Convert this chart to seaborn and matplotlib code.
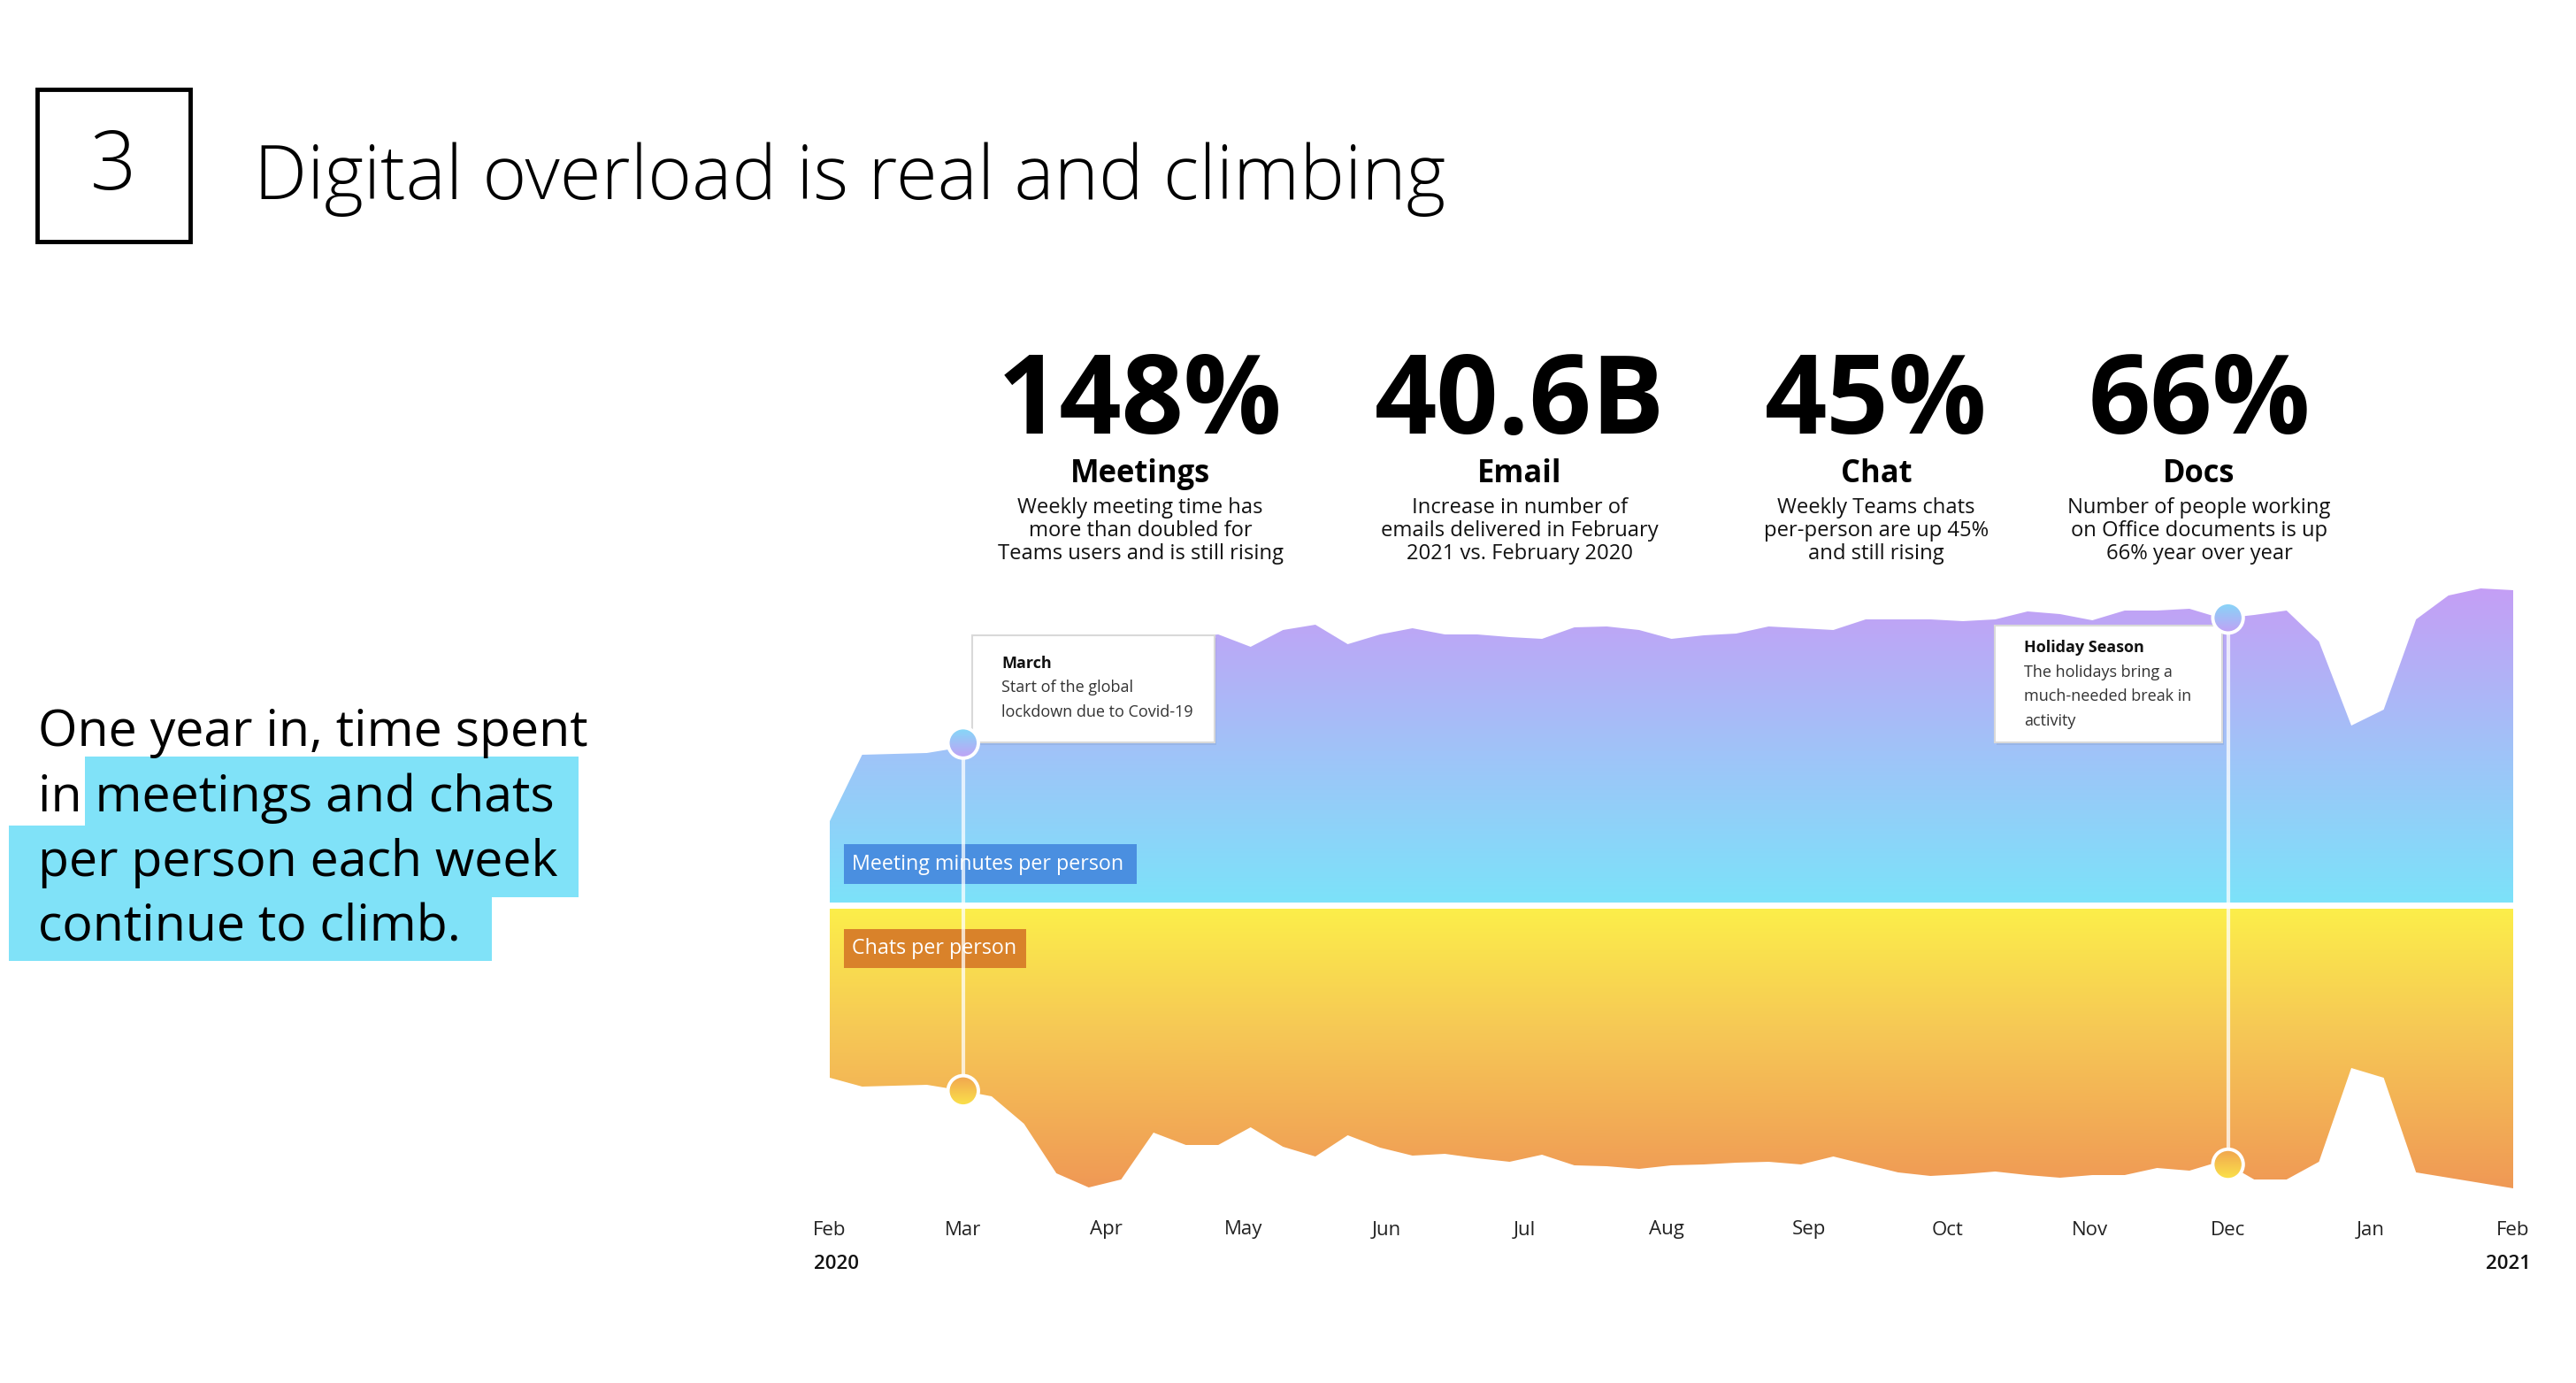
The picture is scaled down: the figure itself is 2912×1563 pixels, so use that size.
import numpy as np
import pandas as pd
import matplotlib
matplotlib.use("Agg")
import matplotlib.pyplot as plt
import matplotlib.dates as mdates
import seaborn as sns
from matplotlib.colors import LinearSegmentedColormap
from matplotlib.patches import Rectangle, Circle, PathPatch
from matplotlib.lines import Line2D
from matplotlib.transforms import blended_transform_factory

# ---------------- data (weekly index values) ----------------
meeting_index = [92, 167, 168, 169, 175, 220, 260, 280, 290, 295, 298, 300, 303, 289,
                 308, 314, 292, 303, 310, 303, 303, 300, 298, 311, 312, 308, 298, 302,
                 304, 312, 310, 308, 320, 320, 320, 318, 320, 329, 326, 319, 330, 330,
                 332, 321, 325, 330, 295, 200, 218, 320, 347, 355, 353]
chat_index = [191, 201, 200, 199, 205, 212, 243, 299, 315, 306, 253, 267, 267, 247,
              269, 280, 256, 270, 279, 277, 282, 286, 278, 290, 291, 294, 290, 289,
              287, 286, 289, 280, 289, 298, 302, 300, 297, 301, 304, 301, 301, 293,
              296, 285, 306, 306, 286, 180, 191, 298, 304, 310, 316]
month_labels = ["Feb", "Mar", "Apr", "May", "Jun", "Jul", "Aug", "Sep", "Oct", "Nov",
                "Dec", "Jan", "Feb"]
year_labels = ["2020", "2021"]
stat_values = ["148%", "40.6B", "45%", "66%"]
stat_titles = ["Meetings", "Email", "Chat", "Docs"]
stat_texts = [
    ["Weekly meeting time has", "more than doubled for", "Teams users and is still rising"],
    ["Increase in number of", "emails delivered in February", "2021 vs. February 2020"],
    ["Weekly Teams chats", "per-person are up 45%", "and still rising"],
    ["Number of people working", "on Office documents is up", "66% year over year"],
]
series_labels = ["Meeting minutes per person", "Chats per person"]
event_dates = ["2020-03-01", "2020-12-01"]
event_titles = ["March", "Holiday Season"]
event_texts = [["Start of the global", "lockdown due to Covid-19"],
               ["The holidays bring a", "much-needed break in", "activity"]]
headline = "Digital overload is real and climbing"
section_number = "3"
intro_lines = ["One year in, time spent", "in meetings and chats",
               "per person each week", "continue to climb."]

# ---------------- setup ----------------
sns.set_theme(style="white")
plt.rcParams['font.family'] = ['Open Sans', 'DejaVu Sans']

W, H = 2912, 1563
fig = plt.figure(figsize=(W / 100, H / 100), dpi=100)
fig.patch.set_facecolor("white")
renderer = fig.canvas.get_renderer()


def fx(px):
    return px / W


def fy(py):
    return 1 - py / H


def fit(t, target_w):
    bb = t.get_window_extent(renderer)
    t.set_fontsize(t.get_fontsize() * target_w / bb.width)
    return t.get_fontsize()


weeks = pd.date_range("2020-02-01", "2021-02-01", periods=len(meeting_index))
df = pd.DataFrame({"week": weeks, "meetings": meeting_index, "chats": chat_index})
xnum = mdates.date2num(weeks)

L, R = 938, 2841
ax_m = fig.add_axes([fx(L), fy(1020), (R - L) / W, (1020 - 640) / H])
ax_c = fig.add_axes([fx(L), fy(1360), (R - L) / W, (1360 - 1027) / H])

m_cmap = LinearSegmentedColormap.from_list(
    "meet", [(0, "#7CE2FA"), (0.45, "#A0C3F8"), (0.8, "#BBA8F6"), (1, "#C99AF5")])
c_cmap = LinearSegmentedColormap.from_list(
    "chat", [(0, "#FCEE4A"), (0.4, "#F6C955"), (1, "#EF9455")])

for ax, col, ymax, cmap in [(ax_m, "meetings", 380, m_cmap), (ax_c, "chats", 333, c_cmap)]:
    sns.lineplot(data=df, x="week", y=col, ax=ax, linewidth=0, color="white")
    poly = ax.fill_between(df["week"], 0, df[col], facecolor="none", edgecolor="none")
    pp = PathPatch(poly.get_paths()[0], transform=ax.transData,
                   facecolor="none", edgecolor="none")
    ax.add_patch(pp)
    grad = np.linspace(0, 1, 256).reshape(-1, 1)
    if ax is ax_m:
        im = ax.imshow(grad, extent=(xnum[0], xnum[-1], 0, ymax), origin="lower",
                       cmap=cmap, aspect="auto", zorder=1)
    else:
        im = ax.imshow(grad, extent=(xnum[0], xnum[-1], 0, ymax), origin="lower",
                       cmap=cmap, aspect="auto", zorder=1)
    im.set_clip_path(pp)
    ax.set_xlim(xnum[0], xnum[-1])
    ax.axis("off")
ax_m.set_ylim(0, 380)
ax_c.set_ylim(333, 0)

# month labels
months = pd.date_range("2020-02-01", "2021-02-01", freq="MS")
tr = blended_transform_factory(ax_c.transData, fig.transFigure)
for d, lab in zip(months, month_labels):
    ax_c.text(mdates.date2num(d), fy(1390), lab, transform=tr, ha="center", va="center",
              fontsize=16, color="#222222", clip_on=False)
ax_c.text(mdates.date2num(months[0]) + 1.5, fy(1429), year_labels[0], transform=tr,
          ha="center", va="center", fontsize=16, fontweight="semibold", color="#111111", clip_on=False)
ax_c.text(mdates.date2num(months[-1]) - 1, fy(1429), year_labels[1], transform=tr,
          ha="center", va="center", fontsize=16, fontweight="semibold", color="#111111", clip_on=False)

# series label boxes
fig.patches.append(Rectangle((fx(954), fy(999)), (1285 - 954) / W, 45 / H,
                             transform=fig.transFigure, facecolor="#4A8FE0", edgecolor="none", zorder=2))
t = fig.text(fx(963), fy(977), series_labels[0], color="white", fontsize=16, va="center", zorder=3)
fit(t, 308)
fig.patches.append(Rectangle((fx(954), fy(1094)), (1160 - 954) / W, 44 / H,
                             transform=fig.transFigure, facecolor="#D9822A", edgecolor="none", zorder=2))
t2 = fig.text(fx(963), fy(1072), series_labels[1], color="white", fontsize=t.get_fontsize(),
              va="center", zorder=3)

# annotation boxes
def note_box(x0, y0, x1, y1, title, lines, tx, ty):
    fig.patches.append(Rectangle((fx(x0) + 2 / W, fy(y1) - 3 / H), (x1 - x0) / W, (y1 - y0) / H,
                                 transform=fig.transFigure, facecolor="#000000", alpha=0.06,
                                 edgecolor="none", zorder=3))
    fig.patches.append(Rectangle((fx(x0), fy(y1)), (x1 - x0) / W, (y1 - y0) / H,
                                 transform=fig.transFigure, facecolor="white",
                                 edgecolor="#D9D9D9", lw=1.5, zorder=3.1))
    fig.text(fx(tx), fy(ty), title, fontsize=13, fontweight="bold", color="#111111",
             va="center", zorder=4)
    for i, ln in enumerate(lines):
        fig.text(fx(tx), fy(ty + 27.5 * (i + 1)), ln, fontsize=13, color="#333333",
                 va="center", zorder=4)


note_box(1099, 718, 1373, 839, event_titles[0], event_texts[0], 1132, 750)
note_box(2255, 707, 2512, 839, event_titles[1], event_texts[1], 2288, 732)

# event markers and connecting lines
mk_m = LinearSegmentedColormap.from_list("mkm", ["#C69CF5", "#7FDDF8"])
mk_c = LinearSegmentedColormap.from_list("mkc", ["#FCE84A", "#F0A050"])
for ds in event_dates:
    d = mdates.date2num(pd.Timestamp(ds))
    vm = np.interp(d, xnum, meeting_index)
    vc = np.interp(d, xnum, chat_index)
    pm = ax_m.transData.transform((d, vm))
    pc = ax_c.transData.transform((d, vc))
    fig.lines.append(Line2D([pm[0] / W, pc[0] / W], [pm[1] / H, pc[1] / H],
                            transform=fig.transFigure, color="white", alpha=0.75, lw=3, zorder=5))
    for p, cm in [(pm, mk_m), (pc, mk_c)]:
        dsz = 40
        iax = fig.add_axes([(p[0] - dsz / 2) / W, (p[1] - dsz / 2) / H, dsz / W, dsz / H], zorder=6)
        iax.set_xlim(0, 1)
        iax.set_ylim(0, 1)
        iax.axis("off")
        g = np.linspace(0, 1, 64).reshape(-1, 1)
        im = iax.imshow(g, extent=(0, 1, 0, 1), origin="lower", cmap=cm, aspect="auto")
        circ = Circle((0.5, 0.5), 0.43, transform=iax.transAxes, facecolor="none",
                      edgecolor="white", lw=2.8, clip_on=False)
        iax.add_patch(circ)
        im.set_clip_path(circ)

# ---------------- header ----------------
fig.patches.append(Rectangle((fx(42), fy(273)), (215 - 42) / W, (273 - 101) / H,
                             transform=fig.transFigure, facecolor="none", edgecolor="black", lw=3.5))
fig.text(fx(128), fy(190), section_number, fontsize=66, fontweight="light",
         ha="center", va="center", color="black")
tt = fig.text(fx(287), fy(225), headline, fontsize=69, fontweight="light",
              va="baseline", color="black")
fit(tt, 1345)

# ---------------- stats ----------------
centers = [1289, 1718, 2121, 2486]
widths = [322, 337, 260, 260]
big = []
for c, v in zip(centers, stat_values):
    big.append(fig.text(fx(c), fy(490), v, fontsize=90, fontweight="bold",
                        ha="center", va="baseline", color="black"))
fs = fit(big[0], 322)
for b in big[1:]:
    b.set_fontsize(fs)
titles = []
for c, v in zip(centers, stat_titles):
    titles.append(fig.text(fx(c), fy(545), v, fontsize=22, fontweight="bold",
                           ha="center", va="baseline", color="black"))
fs2 = fit(titles[0], 158)
for tt2 in titles[1:]:
    tt2.set_fontsize(fs2)
desc = []
for c, lines in zip(centers, stat_texts):
    for i, ln in enumerate(lines):
        desc.append(fig.text(fx(c), fy(574 + 26 * i), ln, fontsize=16,
                             ha="center", va="center", color="#111111"))
fs3 = fit(desc[2], 323)
for dd in desc:
    dd.set_fontsize(fs3)

# ---------------- intro paragraph ----------------
hl = "#80E2F8"
for (x0, y0, x1, y1) in [(96, 855, 654, 934), (10, 933, 654, 1014), (10, 1013, 556, 1086)]:
    fig.patches.append(Rectangle((fx(x0), fy(y1)), (x1 - x0) / W, (y1 - y0) / H,
                                 transform=fig.transFigure, facecolor=hl, edgecolor="none", zorder=1))
baselines = [843, 917, 990, 1063]
intro = []
for ln, b in zip(intro_lines, baselines):
    intro.append(fig.text(fx(43), fy(b), ln, fontsize=42, va="baseline", color="black", zorder=3))
fs4 = fit(intro[0], 622)
for it in intro[1:]:
    it.set_fontsize(fs4)

fig.savefig("out.png", dpi=100, facecolor="white")
